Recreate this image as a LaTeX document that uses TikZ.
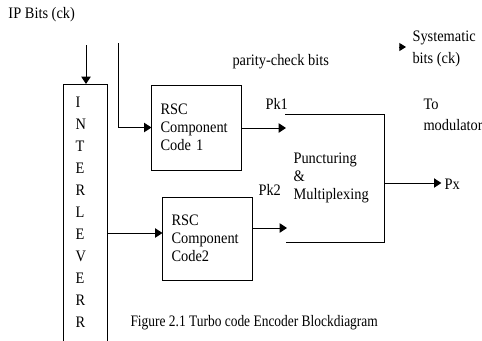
\documentclass[tikz,border=0pt]{standalone}
\usepackage{fontspec}
\setmainfont[FakeStretch=0.9]{Liberation Serif}
\newfontfamily\capfont[FakeStretch=0.84]{Liberation Serif}
\usetikzlibrary{arrows.meta}

\begin{document}
\begin{tikzpicture}[x=0.75pt,y=-0.75pt,line width=0.75pt,
  font=\fontsize{12}{13.5}\selectfont,
  arr/.style={-{Triangle[length=5.5pt,width=7pt]}},
  lbl/.style={anchor=west,inner sep=0pt,align=left},
  blk/.style={draw,minimum width=66.75pt,text width=54pt,inner xsep=6.4pt,align=left}]
\useasboundingbox (0,0) rectangle (482,340);
\node[lbl] (ipbits) at (8,15) {IP Bits (ck)};
\node[lbl] (parity) at (232,62) {parity-check bits};
\node[lbl,font=\fontsize{12}{16}\selectfont] (syst) at (412,49) {Systematic\\bits (ck)};
\node[lbl,font=\fontsize{12}{16}\selectfont] (tomod) at (423,115) {To\\modulator};
\coordinate (sysa) at (399,47);
\coordinate (sysb) at (406,47);
\draw[-{Triangle[length=5pt,width=6pt]}] (sysa) -- (sysb);
\draw (63,341) -- (63,84) -- (107,84) -- (107,341);
\foreach \l [count=\i from 0] in {I,N,T,E,R,L,E,V,E,R,R}
  \node[lbl] (il\i) at (75,{102+22*\i}) {\l};
\coordinate (ipin) at (86,45);
\coordinate (ilvtop) at (86,84);
\draw[arr] (ipin) -- (ilvtop);
\node[blk,minimum height=63.75pt] (rsc1) at (196.5,127.5) {RSC\\Component\\Code 1};
\node[blk,minimum height=62.25pt] (rsc2) at (207.5,238.5) {RSC\\Component\\Code2};
\coordinate (sysin) at (118,43);
\draw[arr] (sysin) |- (rsc1.west);
\coordinate (ilvout) at (107,233);
\draw[arr] (ilvout) -- (ilvout -| rsc2.west);
\coordinate (pin1) at (286,128);
\coordinate (pin2) at (287,228);
\draw[arr] (rsc1.east |- pin1) -- (pin1);
\draw[arr] (rsc2.east |- pin2) -- (pin2);
\node[lbl] (pk1) at (265,104) {Pk1};
\node[lbl] (pk2) at (258,190) {Pk2};
\draw (285,114) -- (384,114) -- (384,242) -- (286,242);
\node[lbl] (punc) at (293,178) {Puncturing\\\&\\Multiplexing};
\coordinate (pout) at (384,183);
\node[lbl] (px) at (444,184) {Px};
\draw[arr] (pout) -- ([xshift=-2pt]px.west |- pout);
\node[lbl,font=\capfont\fontsize{12}{13.5}\selectfont] (cap) at (130,323) {Figure 2.1 Turbo code Encoder Blockdiagram};
\end{tikzpicture}
\end{document}
